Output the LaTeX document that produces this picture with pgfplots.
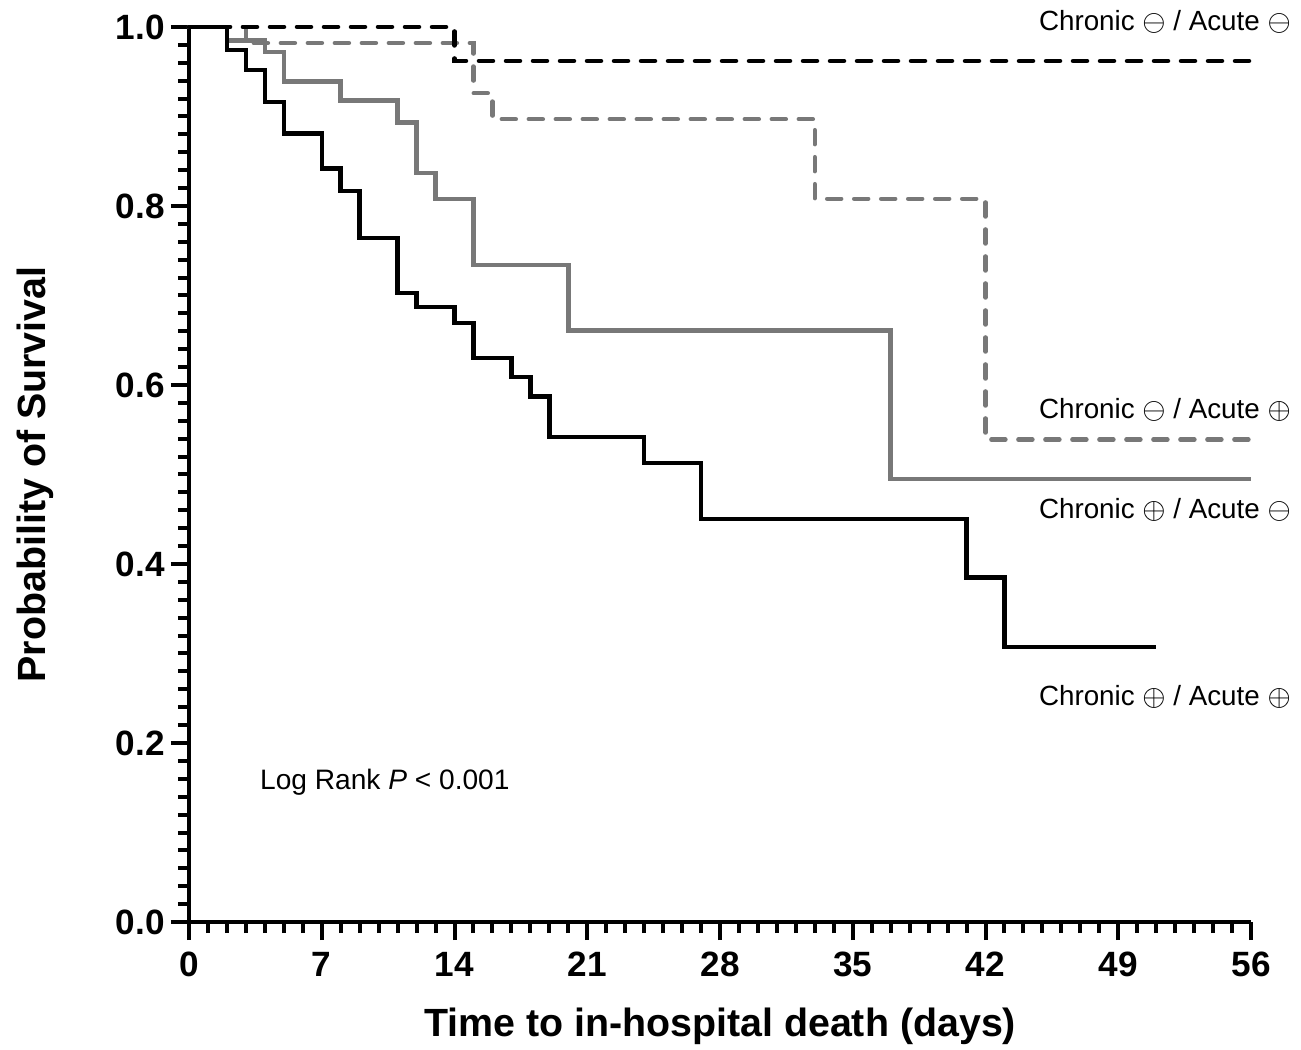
\documentclass[border=0pt]{standalone}
\usepackage{fontspec}
\setmainfont{Liberation Sans}
\usepackage{pgfplots}
\pgfplotsset{compat=1.18}
\definecolor{kmgray}{gray}{0.47}

\begin{document}
\begin{tikzpicture}
\begin{axis}[
  scale only axis, width=106.2mm, height=89.5mm,
  xmin=0, xmax=56, ymin=0, ymax=1,
  axis x line*=bottom, axis y line*=left,
  axis line style={line width=0.4mm, -},
  xtick={0,7,...,56}, minor x tick num=6,
  ytick={0,0.2,0.4,0.6,0.8,1.0}, minor y tick num=9,
  tick align=outside,
  major tick length=1.8mm, minor tick length=1.1mm,
  every tick/.style={black, line width=0.4mm},
  tick label style={font=\bfseries\fontsize{10}{12}\selectfont},
  /pgf/number format/assume math mode=true,
  yticklabel style={xshift=0.6mm, /pgf/number format/.cd, fixed, fixed zerofill, precision=1},
  xlabel={Time to in-hospital death (days)},
  ylabel={Probability of Survival},
  label style={font=\bfseries\fontsize{11.2}{13}\selectfont},
  xlabel style={at={(axis description cs:0.5,-0.117)}, anchor=center},
  ylabel style={at={(axis description cs:-0.145,0.5)}, anchor=center, rotate=0},
  clip=false,
]
% Chronic - / Acute +
\addplot[const plot, kmgray, line width=0.45mm, dash pattern=on 1.4mm off 1.3mm, line cap=round]
  coordinates {(0,1)(3,0.982)(15,0.926)(16,0.897)(33,0.808)(42,0.539)(56,0.539)};
% Chronic + / Acute -
\addplot[const plot, kmgray, line width=0.45mm]
  coordinates {(0,1)(2,0.985)(4,0.972)(5,0.939)(8,0.918)(11,0.893)(12,0.837)(13,0.808)(15,0.734)(20,0.661)(37,0.495)(56,0.495)};
% Chronic + / Acute +
\addplot[const plot, black, line width=0.45mm]
  coordinates {(0,1)(2,0.974)(3,0.952)(4,0.916)(5,0.881)(7,0.842)(8,0.817)(9,0.764)(11,0.703)(12,0.687)(14,0.669)(15,0.630)(17,0.609)(18,0.587)(19,0.542)(24,0.513)(27,0.450)(41,0.385)(43,0.307)(51,0.307)};
% Chronic - / Acute -
\addplot[const plot, black, line width=0.45mm, dash pattern=on 1.4mm off 1.3mm, line cap=round]
  coordinates {(0,1)(14,0.962)(56,0.962)};

\node[anchor=east, font=\fontsize{7.9}{9}\selectfont] at (axis cs:58.75,1.006) {Chronic $\ominus$ / Acute $\ominus$};
\node[anchor=east, font=\fontsize{7.9}{9}\selectfont] at (axis cs:58.75,0.572) {Chronic $\ominus$ / Acute $\oplus$};
\node[anchor=east, font=\fontsize{7.9}{9}\selectfont] at (axis cs:58.75,0.460) {Chronic $\oplus$ / Acute $\ominus$};
\node[anchor=east, font=\fontsize{7.9}{9}\selectfont] at (axis cs:58.75,0.251) {Chronic $\oplus$ / Acute $\oplus$};
\node[anchor=west, font=\fontsize{8}{9}\selectfont] at (axis cs:3.1,0.156) {Log Rank \textit{P} < 0.001};
\end{axis}
\pgfresetboundingbox
\path[use as bounding box] ([xshift=-18.9mm,yshift=-12.7mm]current axis.south west) rectangle ([xshift=5.0mm,yshift=2.7mm]current axis.north east);
\end{tikzpicture}
\end{document}
